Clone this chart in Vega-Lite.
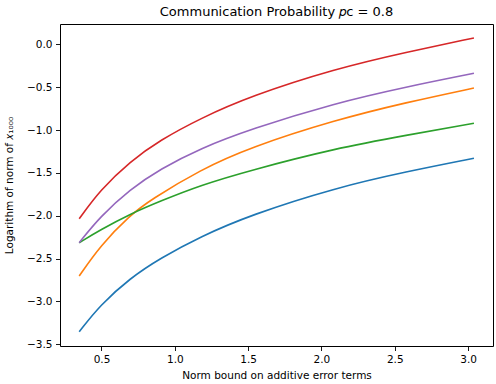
{
  "$schema": "https://vega.github.io/schema/vega-lite/v6.json",
  "width": 433,
  "height": 322,
  "autosize": "none",
  "padding": {"left": 60, "top": 24, "right": 3, "bottom": 38},
  "background": "white",
  "title": {
    "text": "Communication Probability 𝑝ᴄ = 0.8",
    "font": "DejaVu Sans",
    "fontSize": 13,
    "fontWeight": "normal",
    "color": "#000",
    "anchor": "middle",
    "offset": 5
  },
  "config": {
    "view": {"stroke": "#000", "strokeWidth": 1},
    "font": "DejaVu Sans",
    "axis": {
      "grid": false,
      "domain": false,
      "tickColor": "#000",
      "tickSize": 4.5,
      "tickWidth": 0.9,
      "labelFont": "DejaVu Sans",
      "labelFontSize": 10.5,
      "labelColor": "#000",
      "labelPadding": 3.5,
      "titleFont": "DejaVu Sans",
      "titleFontSize": 10.5,
      "titleFontWeight": "normal",
      "titleColor": "#000"
    }
  },
  "data": {
    "values": [
      {"series": "0", "x": 0.348, "y": -3.354},
      {"series": "0", "x": 0.491, "y": -3.042},
      {"series": "0", "x": 0.696, "y": -2.727},
      {"series": "0", "x": 0.900, "y": -2.497},
      {"series": "0", "x": 1.173, "y": -2.245},
      {"series": "0", "x": 1.515, "y": -1.992},
      {"series": "0", "x": 2.094, "y": -1.675},
      {"series": "0", "x": 2.582, "y": -1.485},
      {"series": "0", "x": 3.040, "y": -1.330},

      {"series": "1", "x": 0.348, "y": -2.704},
      {"series": "1", "x": 0.491, "y": -2.350},
      {"series": "1", "x": 0.696, "y": -1.992},
      {"series": "1", "x": 0.833, "y": -1.817},
      {"series": "1", "x": 1.173, "y": -1.465},
      {"series": "1", "x": 1.515, "y": -1.202},
      {"series": "1", "x": 2.094, "y": -0.883},
      {"series": "1", "x": 2.582, "y": -0.677},
      {"series": "1", "x": 3.040, "y": -0.510},

      {"series": "2", "x": 0.348, "y": -2.315},
      {"series": "2", "x": 0.491, "y": -2.165},
      {"series": "2", "x": 0.707, "y": -1.970},
      {"series": "2", "x": 0.900, "y": -1.830},
      {"series": "2", "x": 1.173, "y": -1.645},
      {"series": "2", "x": 1.515, "y": -1.470},
      {"series": "2", "x": 2.094, "y": -1.215},
      {"series": "2", "x": 2.582, "y": -1.060},
      {"series": "2", "x": 3.040, "y": -0.922},

      {"series": "3", "x": 0.348, "y": -2.036},
      {"series": "3", "x": 0.491, "y": -1.700},
      {"series": "3", "x": 0.696, "y": -1.365},
      {"series": "3", "x": 0.900, "y": -1.118},
      {"series": "3", "x": 1.173, "y": -0.865},
      {"series": "3", "x": 1.515, "y": -0.605},
      {"series": "3", "x": 2.094, "y": -0.285},
      {"series": "3", "x": 2.582, "y": -0.090},
      {"series": "3", "x": 3.040, "y": 0.074},

      {"series": "4", "x": 0.348, "y": -2.315},
      {"series": "4", "x": 0.491, "y": -2.010},
      {"series": "4", "x": 0.696, "y": -1.690},
      {"series": "4", "x": 0.900, "y": -1.455},
      {"series": "4", "x": 1.173, "y": -1.215},
      {"series": "4", "x": 1.515, "y": -0.990},
      {"series": "4", "x": 2.094, "y": -0.685},
      {"series": "4", "x": 2.582, "y": -0.495},
      {"series": "4", "x": 3.040, "y": -0.338}
    ]
  },
  "mark": {"type": "line", "strokeWidth": 1.6, "interpolate": "basis", "clip": true},
  "encoding": {
    "x": {
      "field": "x",
      "type": "quantitative",
      "scale": {"domain": [0.217, 3.17], "nice": false, "zero": false},
      "axis": {
        "values": [0.5, 1.0, 1.5, 2.0, 2.5, 3.0],
        "format": ".1f",
        "title": "Norm bound on additive error terms",
        "titlePadding": 6
      }
    },
    "y": {
      "field": "y",
      "type": "quantitative",
      "scale": {"domain": [-3.52, 0.237], "nice": false, "zero": false},
      "axis": {
        "values": [-3.5, -3.0, -2.5, -2.0, -1.5, -1.0, -0.5, 0.0],
        "format": ".1f",
        "title": "Logarithm of norm of 𝑥₁₀₀₀",
        "titlePadding": 12
      }
    },
    "color": {
      "field": "series",
      "type": "nominal",
      "scale": {
        "domain": ["0", "1", "2", "3", "4"],
        "range": ["#1f77b4", "#ff7f0e", "#2ca02c", "#d62728", "#9467bd"]
      },
      "legend": null
    }
  }
}
